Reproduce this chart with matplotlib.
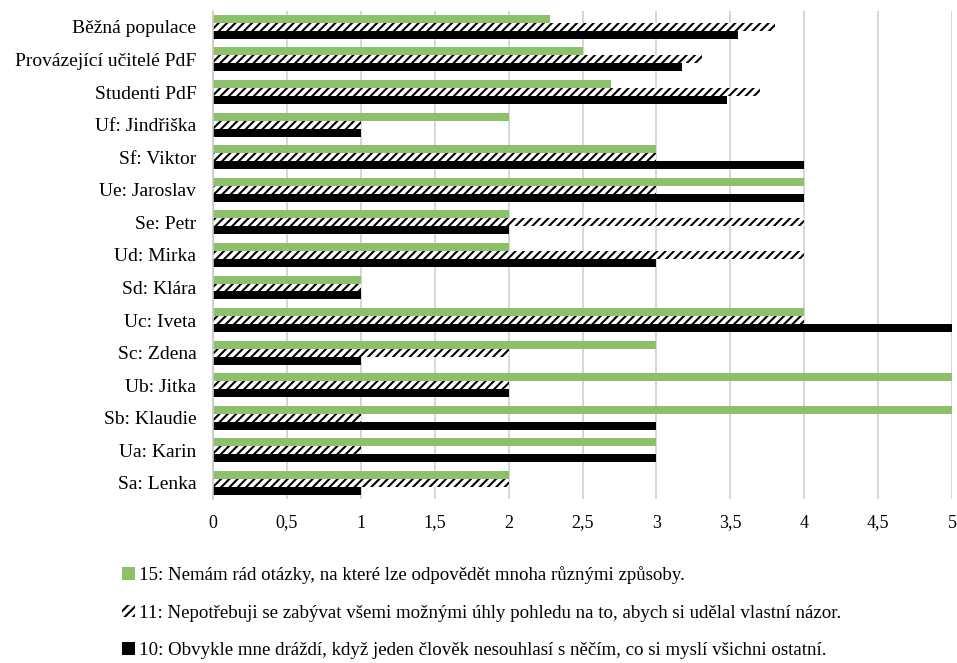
import matplotlib
matplotlib.use("Agg")
import matplotlib.pyplot as plt
import numpy as np
from matplotlib.patches import Patch

categories = ["Běžná populace", "Provázející učitelé PdF", "Studenti PdF",
              "Uf: Jindřiška", "Sf: Viktor", "Ue: Jaroslav", "Se: Petr",
              "Ud: Mirka", "Sd: Klára", "Uc: Iveta", "Sc: Zdena", "Ub: Jitka",
              "Sb: Klaudie", "Ua: Karin", "Sa: Lenka"]
q15 = [2.28, 2.5, 2.69, 2, 3, 4, 2, 2, 1, 4, 3, 5, 5, 3, 2]
q11 = [3.8, 3.31, 3.7, 1, 3, 3, 4, 4, 1, 4, 2, 2, 1, 1, 2]
q10 = [3.55, 3.17, 3.48, 1, 4, 4, 2, 3, 1, 5, 1, 2, 3, 3, 1]
legend_labels = [
    "15: Nemám rád otázky, na které lze odpovědět mnoha různými způsoby.",
    "11: Nepotřebuji se zabývat všemi možnými úhly pohledu na to, abych si udělal vlastní názor.",
    "10: Obvykle mne dráždí, když jeden člověk nesouhlasí s něčím, co si myslí všichni ostatní.",
]
xticks = [0, 0.5, 1, 1.5, 2, 2.5, 3, 3.5, 4, 4.5, 5]

plt.rcParams["font.family"] = ["Liberation Serif", "DejaVu Serif"]
plt.rcParams["hatch.linewidth"] = 1.5

green = "#8cc16a"
fig = plt.figure(figsize=(9.57, 6.63), dpi=100)
ax = fig.add_axes([0.2226, 0.247, 0.7722, 0.737])

y = np.arange(len(categories))
h = 0.245
ax.barh(y - h, q15, height=h, color=green, label=legend_labels[0])
ax.barh(y, q11, height=h, color="white", edgecolor="black", linewidth=0,
        hatch="////", label=legend_labels[1])
ax.barh(y + h, q10, height=h, color="black", label=legend_labels[2])

ax.set_ylim(len(categories) - 0.5, -0.5)
ax.set_xlim(0, 5)
ax.set_yticks(y)
ax.set_yticklabels(categories, fontsize=14)
ax.set_xticks(xticks)
ax.set_xticklabels([f"{t:g}".replace(".", ",") for t in xticks], fontsize=13)
ax.tick_params(length=0)
ax.tick_params(axis="x", pad=11)
ax.tick_params(axis="y", pad=12)
ax.grid(axis="x", color="#d0d0d0", linewidth=1.2)
ax.set_axisbelow(True)
for side in ["top", "right", "bottom"]:
    ax.spines[side].set_visible(False)
ax.spines["left"].set_color("#c8c8c8")
ax.spines["left"].set_linewidth(1.2)

handles = [Patch(facecolor=green, label=legend_labels[0]),
           Patch(facecolor="white", edgecolor="black", linewidth=0, hatch="////",
                 label=legend_labels[1]),
           Patch(facecolor="black", label=legend_labels[2])]
fig.legend(handles=handles, loc="upper left", bbox_to_anchor=(0.118, 0.16),
           frameon=False, fontsize=13.6, handlelength=0.65, handleheight=0.65,
           handletextpad=0.25, labelspacing=1.09, borderpad=0)

fig.savefig("out.png", dpi=100)
